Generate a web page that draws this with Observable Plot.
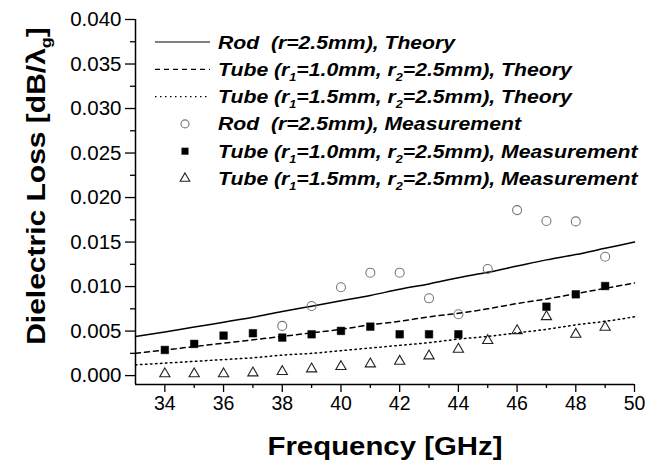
<!DOCTYPE html>
<html>
<head>
<meta charset="utf-8">
<script src="https://cdn.jsdelivr.net/npm/d3@7"></script>
<script src="https://cdn.jsdelivr.net/npm/@observablehq/plot@0.6"></script>
<style>
  html, body { margin: 0; padding: 0; background: white; }
  #chart { width: 660px; height: 468px; }
</style>
</head>
<body>
<div id="chart"></div>
<script>
// ---- Data ----
const theoryFreq = [33,34,35,36,37,38,39,40,41,42,43,44,45,46,47,48,49,50];
const rodTheory   = [0.0044,0.0049,0.00545,0.0060,0.00655,0.0072,0.0078,0.0084,0.0090,0.0097,0.0103,0.0110,0.0116,0.0123,0.0130,0.0136,0.0143,0.0150];
const tube10Theory= [0.0025,0.00288,0.00326,0.00364,0.00402,0.0044,0.0048,0.0052,0.0057,0.0061,0.0066,0.0070,0.0075,0.0081,0.0086,0.0092,0.0098,0.0104];
const tube15Theory= [0.0012,0.0014,0.0016,0.0018,0.0020,0.0023,0.0025,0.0028,0.0031,0.0034,0.0037,0.0041,0.0044,0.0048,0.0052,0.0057,0.0061,0.0066];

const rodMeasFreq = [38,39,40,41,42,43,44,45,46,47,48,49];
const rodMeas     = [0.00558,0.00782,0.00992,0.01156,0.01156,0.00868,0.00689,0.01197,0.01859,0.01736,0.01732,0.01335];

const tube10MeasFreq = [34,35,36,37,38,39,40,41,42,43,44,47,48,49];
const tube10Meas     = [0.00288,0.00356,0.00449,0.00476,0.00427,0.00464,0.00502,0.00550,0.00464,0.00464,0.00464,0.00774,0.00913,0.01006];

const tube15MeasFreq = [34,35,36,37,38,39,40,41,42,43,44,45,46,47,48,49];
const tube15Meas     = [0.0002,0.0002,0.0002,0.0003,0.00045,0.00075,0.00101,0.00131,0.00161,0.00221,0.00296,0.00393,0.00505,0.00662,0.00464,0.00543];

const xTicks = [34,36,38,40,42,44,46,48,50];
const xMinor = [35,37,39,41,43,45,47,49];
const yTicks = [0.000,0.005,0.010,0.015,0.020,0.025,0.030,0.035,0.040];
const yMinor = [0.0025,0.0075,0.0125,0.0175,0.0225,0.0275,0.0325,0.0375];

const xLabel = "Frequency [GHz]";

// ---- Tables ----
const theory = theoryFreq.flatMap((f,i) => [
  {f, v: rodTheory[i], s: "rod"},
  {f, v: tube10Theory[i], s: "t10"},
  {f, v: tube15Theory[i], s: "t15"}
]);
const rodM = rodMeasFreq.map((f,i) => ({f, v: rodMeas[i]}));
const t10M = tube10MeasFreq.map((f,i) => ({f, v: tube10Meas[i]}));
const t15M = tube15MeasFreq.map((f,i) => ({f, v: tube15Meas[i]}));

const font = "'Liberation Sans', Arial, Helvetica, sans-serif";

const chart = Plot.plot({
  width: 660,
  height: 468,
  marginLeft: 135,
  marginRight: 26,
  marginTop: 19,
  marginBottom: 84,
  x: {domain: [33, 50]},
  y: {domain: [-0.001, 0.040]},
  style: {fontFamily: font, fontSize: "20px", color: "black", background: "white", overflow: "visible"},
  marks: [
    Plot.line(theory.filter(d => d.s === "rod"), {x: "f", y: "v", stroke: "black", strokeWidth: 1.5, curve: "monotone-x"}),
    Plot.line(theory.filter(d => d.s === "t10"), {x: "f", y: "v", stroke: "black", strokeWidth: 1.5, strokeDasharray: "5,4", curve: "monotone-x"}),
    Plot.line(theory.filter(d => d.s === "t15"), {x: "f", y: "v", stroke: "black", strokeWidth: 1.5, strokeDasharray: "1.5,3.5", curve: "monotone-x"}),
    Plot.dot(rodM, {x: "f", y: "v", symbol: "circle", r: 4.5, fill: "none", stroke: "#777", strokeWidth: 1.1}),
    Plot.dot(t10M, {x: "f", y: "v", symbol: "square", r: 4.3, fill: "black", stroke: "black", strokeWidth: 0.5}),
    Plot.dot(t15M, {x: "f", y: "v", symbol: "triangle", r: 3.8, fill: "none", stroke: "#222", strokeWidth: 1.1}),
    Plot.ruleX([33], {stroke: "black", strokeWidth: 1.5}),
    Plot.ruleY([-0.001], {stroke: "black", strokeWidth: 1.5}),
    Plot.axisY(yTicks, {tickSize: 10, tickPadding: 4, tickFormat: d => d.toFixed(3), label: null, fontSize: 20.5, strokeWidth: 1.3}),
    Plot.axisY(yMinor, {tickSize: 5, tickFormat: () => "", label: null, strokeWidth: 1.3}),
    Plot.axisX(xTicks, {tickSize: 8, tickPadding: 4, tickFormat: d => String(d), label: null, fontSize: 19.5, strokeWidth: 1.3}),
    Plot.axisX(xMinor, {tickSize: 4, tickFormat: () => "", label: null, strokeWidth: 1.3})
  ]
});

document.getElementById("chart").appendChild(chart);

const svg = d3.select(chart);

// Axis titles
svg.append("text")
  .attr("transform", "translate(385,455) scale(1.13,1)")
  .attr("text-anchor", "middle")
  .style("font-family", font).style("font-weight", "bold").style("font-size", "26px")
  .text(xLabel);

const yl = svg.append("text")
  .attr("transform", "translate(45,186) rotate(-90) scale(1.2,1)")
  .attr("text-anchor", "middle")
  .style("font-family", font).style("font-weight", "bold").style("font-size", "25px");
yl.append("tspan").text("Dielectric Loss [dB/λ");
yl.append("tspan").attr("dy", 6).style("font-size", "15px").text("g");
yl.append("tspan").attr("dy", -6).text("]");

// Legend
const legendRows = [
  {type: "line", dash: null, parts: [["Rod  (r=2.5mm), Theory"]]},
  {type: "line", dash: "5,4", parts: [["Tube (r"],["1","sub"],["=1.0mm, r"],["2","sub"],["=2.5mm), Theory"]]},
  {type: "line", dash: "1.5,3.5", parts: [["Tube (r"],["1","sub"],["=1.5mm, r"],["2","sub"],["=2.5mm), Theory"]]},
  {type: "circle", parts: [["Rod  (r=2.5mm), Measurement"]]},
  {type: "square", parts: [["Tube (r"],["1","sub"],["=1.0mm, r"],["2","sub"],["=2.5mm), Measurement"]]},
  {type: "triangle", parts: [["Tube (r"],["1","sub"],["=1.5mm, r"],["2","sub"],["=2.5mm), Measurement"]]}
];
const lg = svg.append("g").attr("text-anchor", "start");
legendRows.forEach((row, i) => {
  const cy = 42 + i * 27.3;
  if (row.type === "line") {
    lg.append("line").attr("x1", 155).attr("x2", 210).attr("y1", cy).attr("y2", cy)
      .attr("stroke", "black").attr("stroke-width", 1.2)
      .attr("stroke-dasharray", row.dash);
  } else if (row.type === "circle") {
    lg.append("circle").attr("cx", 185).attr("cy", cy).attr("r", 4)
      .attr("fill", "none").attr("stroke", "#777").attr("stroke-width", 1.1);
  } else if (row.type === "square") {
    lg.append("rect").attr("x", 181.5).attr("y", cy - 3.5).attr("width", 7).attr("height", 7).attr("fill", "black");
  } else {
    lg.append("path").attr("d", d3.symbol(d3.symbolTriangle, 40)())
      .attr("transform", `translate(185,${cy})`)
      .attr("fill", "none").attr("stroke", "#222").attr("stroke-width", 1.1);
  }
  const t = lg.append("text")
    .attr("transform", `translate(218,${cy + 6.5}) scale(1.145,1)`)
    .attr("text-anchor", "start")
    .style("font-family", font).style("font-weight", "bold").style("font-style", "italic").style("font-size", "18.5px");
  let sub = false;
  row.parts.forEach(p => {
    const ts = t.append("tspan").text(p[0]);
    if (p[1] === "sub") { ts.attr("dy", 5).style("font-size", "11px"); sub = true; }
    else if (sub) { ts.attr("dy", -5); sub = false; }
  });
});
</script>
</body>
</html>
